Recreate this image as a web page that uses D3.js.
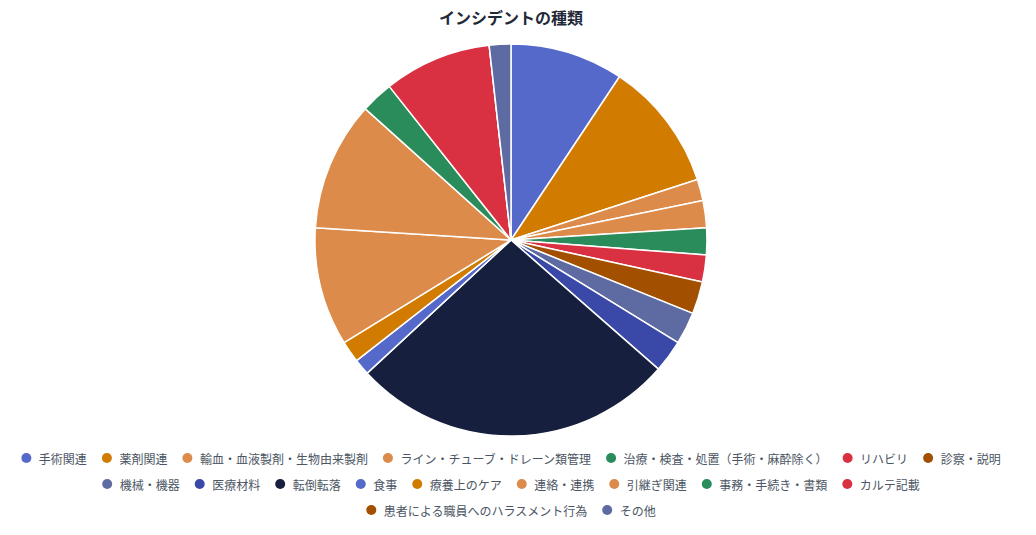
<!DOCTYPE html>
<html>
<head>
<meta charset="utf-8">
<script src="https://cdn.jsdelivr.net/npm/d3@7"></script>
<style>
  body { margin: 0; background: #fff; }
  svg { display: block; font-family: "Noto Sans CJK JP", "Noto Sans", sans-serif; }
</style>
</head>
<body>
<div id="chart"></div>
<script>
// Incident categories and counts
const categories = [
  '手術関連', '薬剤関連', '輸血・血液製剤・生物由来製剤', 'ライン・チューブ・ドレーン類管理',
  '治療・検査・処置（手術・麻酔除く）', 'リハビリ', '診察・説明', '機械・機器', '医療材料',
  '転倒転落', '食事', '療養上のケア', '連絡・連携', '引継ぎ関連', '事務・手続き・書類',
  'カルテ記載', '患者による職員へのハラスメント行為', 'その他'
];
const counts = [21, 24, 4, 5, 5, 5, 6, 6, 6, 60, 3, 4, 22, 24, 6, 20, 0, 4];
const palette = ['#5469c9', '#d17b00', '#dc8b4a', '#dc8b4a', '#2a8c5b',
                 '#d93141', '#a24f00', '#5e6aa2', '#3a49a8', '#161f3d'];
const title = 'インシデントの種類';

const width = 1036, height = 535;
const cx = 511, cy = 240, radius = 196;

const data = categories.map((c, i) => ({ name: c, value: counts[i], color: palette[i % palette.length] }));

const svg = d3.select('#chart').append('svg')
  .attr('width', width)
  .attr('height', height);

svg.append('text')
  .attr('x', cx)
  .attr('y', 17)
  .attr('text-anchor', 'middle')
  .attr('dominant-baseline', 'central')
  .attr('font-size', '16px')
  .attr('font-weight', 'bold')
  .attr('fill', '#1f2937')
  .text(title);

let pie = d3.pie().sort(null).value(d => d.value);
let arc = d3.arc().innerRadius(0).outerRadius(radius);

svg.append('g')
  .attr('transform', `translate(${cx}, ${cy})`)
  .selectAll('path')
  .data(pie(data))
  .enter()
  .append('path')
    .attr('d', arc)
    .attr('fill', d => d.data.color)
    .attr('stroke', '#fff')
    .attr('stroke-width', 1.5)
    .attr('stroke-linejoin', 'round');

// Legend: wrapped rows, each row centred
const legend = svg.append('g');
const markR = 5, textOff = 12.5, itemGap = 15, maxRow = 1010;
const rowY = [458, 484, 510];

let items = legend.selectAll('g.item')
  .data(data)
  .enter()
  .append('g')
  .attr('class', 'item');
items.append('circle')
  .attr('r', markR)
  .attr('fill', d => d.color);
items.append('text')
  .attr('x', textOff)
  .attr('dominant-baseline', 'central')
  .attr('font-size', '12px')
  .attr('fill', '#4b5563')
  .text(d => d.name);

let rows = [[]];
let rowW = 0;
items.each(function(d) {
  let w = markR + textOff + this.querySelector('text').getComputedTextLength();
  let add = rows[rows.length - 1].length ? itemGap + w : w;
  if (rowW + add > maxRow && rows[rows.length - 1].length) {
    rows.push([]);
    rowW = 0;
    add = w;
  }
  rows[rows.length - 1].push({ el: this, w: w });
  rowW += add;
});
rows.forEach((row, r) => {
  let total = d3.sum(row, d => d.w) + itemGap * (row.length - 1);
  let x = cx - total / 2;
  row.forEach(it => {
    d3.select(it.el).attr('transform', `translate(${x + markR}, ${rowY[r]})`);
    x += it.w + itemGap;
  });
});
</script>
</body>
</html>
